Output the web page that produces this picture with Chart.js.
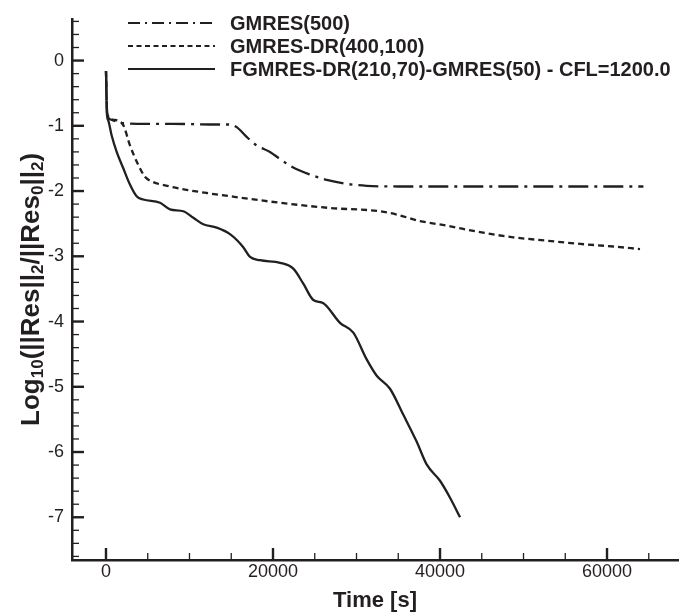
<!DOCTYPE html>
<html>
<head>
<meta charset="utf-8">
<script src="https://cdn.jsdelivr.net/npm/chart.js@4.4.1/dist/chart.umd.min.js"></script>
<style>
  html, body { margin: 0; padding: 0; background: #fff; }
  #wrap { width: 682px; height: 612px; }
</style>
</head>
<body>
<div id="wrap"><canvas id="convChart" width="682" height="612"></canvas></div>
<script>
const seriesNames = ['GMRES(500)', 'GMRES-DR(400,100)', 'FGMRES-DR(210,70)-GMRES(50) - CFL=1200.0'];

// GMRES(500)
const gmresTime = [0, 150, 480, 2070, 5000, 8000, 12450, 14850, 15650, 16840, 18040, 19640, 20840, 22430, 24500, 26430, 28820, 31220, 35000, 45000, 55000, 64360];
const gmresRes = [-0.16, -0.82, -0.90, -0.96, -0.97, -0.97, -0.98, -0.98, -1.02, -1.17, -1.30, -1.40, -1.51, -1.64, -1.75, -1.83, -1.89, -1.92, -1.93, -1.93, -1.93, -1.93];

// GMRES-DR(400,100)
const drTime = [0, 150, 1000, 2070, 2870, 3870, 4670, 5270, 7660, 10060, 12060, 16050, 20840, 26830, 32810, 34810, 37600, 40800, 44790, 48780, 52780, 56770, 60760, 63950];
const drRes = [-0.16, -0.82, -0.91, -0.99, -1.30, -1.60, -1.78, -1.84, -1.93, -1.99, -2.03, -2.10, -2.18, -2.26, -2.31, -2.36, -2.46, -2.53, -2.63, -2.71, -2.76, -2.81, -2.85, -2.89];

// FGMRES-DR(210,70)-GMRES(50)
const fgTime = [0, 100, 280, 680, 1280, 2070, 2870, 3670, 4470, 6470, 7660, 9260, 10460, 11650, 13250, 14850, 16440, 17250, 18440, 20840, 22430, 23630, 24830, 26030, 28020, 29620, 31220, 32420, 34010, 35610, 37200, 38400, 40000, 41200, 42400];
const fgRes = [-0.16, -0.80, -0.92, -1.15, -1.40, -1.65, -1.90, -2.08, -2.13, -2.18, -2.28, -2.31, -2.41, -2.51, -2.56, -2.66, -2.86, -3.01, -3.06, -3.10, -3.19, -3.42, -3.67, -3.72, -4.02, -4.17, -4.58, -4.83, -5.03, -5.43, -5.84, -6.19, -6.44, -6.70, -7.00];

const xTicks = [0, 20000, 40000, 60000];
const yTicks = [0, -1, -2, -3, -4, -5, -6, -7];

const ink = '#231f20';
const fontName = "'Liberation Sans', Arial, Helvetica, sans-serif";

function pts(xs, ys) {
    return xs.map((v, i) => ({ x: v, y: ys[i] }));
}

// legend, inward ticks and the y title (with subscripts)
const tecplotFrame = {
    id: 'tecplotFrame',
    afterDraw(chart) {
        const { ctx, chartArea, scales: { x, y } } = chart;
        ctx.save();
        ctx.strokeStyle = ink;
        ctx.lineCap = 'butt';

        // y ticks, every 0.2, major at integers
        for (let k = Math.ceil(y.min * 5); k <= Math.floor(y.max * 5); k++) {
            const py = y.getPixelForValue(k / 5);
            const major = k % 5 === 0;
            ctx.lineWidth = major ? 2.4 : 1.3;
            ctx.beginPath();
            ctx.moveTo(x.left, py);
            ctx.lineTo(x.left + (major ? 12 : 7), py);
            ctx.stroke();
        }
        // x ticks, every 5000, major every 20000
        for (let k = Math.ceil(x.min / 5000); k <= Math.floor(x.max / 5000); k++) {
            const px = x.getPixelForValue(k * 5000);
            const major = k % 4 === 0;
            ctx.lineWidth = major ? 2.4 : 1.3;
            ctx.beginPath();
            ctx.moveTo(px, y.bottom);
            ctx.lineTo(px, y.bottom - (major ? 12 : 7));
            ctx.stroke();
        }

        // legend
        const legendDash = [[12, 5, 2, 5], [5, 3.5], []];
        const rowY = [23, 46, 69];
        ctx.font = 'bold 20px ' + fontName;
        ctx.fillStyle = ink;
        ctx.textBaseline = 'middle';
        ctx.textAlign = 'left';
        chart.data.datasets.forEach((ds, i) => {
            ctx.lineWidth = 2.2;
            ctx.setLineDash(legendDash[i]);
            ctx.beginPath();
            ctx.moveTo(128, rowY[i]);
            ctx.lineTo(215, rowY[i]);
            ctx.stroke();
            ctx.fillText(ds.label, 230, rowY[i] + 1);
        });
        ctx.setLineDash([]);

        // y title: Log10(||Res||2/||Res0||2), centred on the axis
        const parts = [['Log', 0], ['10', 1], ['(||Res||', 0], ['2', 1], ['/||Res', 0], ['0', 1], ['||', 0], ['2', 1], [')', 0]];
        const big = 'bold 26px ' + fontName;
        const small = 'bold 17px ' + fontName;
        let total = 0;
        parts.forEach(p => { ctx.font = p[1] ? small : big; total += ctx.measureText(p[0]).width; });
        ctx.translate(30, (chartArea.top + chartArea.bottom) / 2);
        ctx.rotate(-Math.PI / 2);
        ctx.textBaseline = 'alphabetic';
        let cx = -total / 2;
        parts.forEach(p => {
            ctx.font = p[1] ? small : big;
            ctx.fillText(p[0], cx, p[1] ? 13 : 9);
            cx += ctx.measureText(p[0]).width;
        });
        ctx.restore();
    }
};

const ctx = document.getElementById('convChart');

new Chart(ctx, {
    type: 'line',
    plugins: [tecplotFrame],
    data: {
        datasets: [
            {
                label: seriesNames[0],
                data: pts(gmresTime, gmresRes),
                borderDash: [20, 6, 3, 6],
            },
            {
                label: seriesNames[1],
                data: pts(drTime, drRes),
                borderDash: [6, 4],
            },
            {
                label: seriesNames[2],
                data: pts(fgTime, fgRes),
                borderDash: [],
            },
        ]
    },
    options: {
        responsive: false,
        animation: false,
        devicePixelRatio: 1,
        layout: {
            padding: { top: 12, right: 4, bottom: 0, left: 0 }
        },
        elements: {
            line: {
                borderColor: ink,
                borderWidth: 2.3,
                cubicInterpolationMode: 'monotone',
                fill: false,
            },
            point: { radius: 0, hoverRadius: 0 }
        },
        plugins: {
            legend: { display: false },
            tooltip: { enabled: false }
        },
        scales: {
            x: {
                type: 'linear',
                min: -4070,
                max: 68500,
                afterFit: (scale) => { scale.height = 52; },
                afterBuildTicks: (scale) => { scale.ticks = xTicks.map(v => ({ value: v })); },
                grid: { display: true, drawOnChartArea: false, drawTicks: false },
                border: { display: true, color: ink, width: 2.5 },
                ticks: {
                    padding: 1,
                    color: ink,
                    font: { family: fontName, size: 18 },
                    callback: (v) => String(v)
                },
                title: {
                    display: true,
                    text: 'Time [s]',
                    color: ink,
                    padding: { top: 0, bottom: 0 },
                    font: { family: fontName, size: 22, weight: 'bold', lineHeight: 1 }
                }
            },
            y: {
                type: 'linear',
                min: -7.655,
                max: 0.64,
                afterFit: (scale) => { scale.width = 72; },
                afterBuildTicks: (scale) => { scale.ticks = yTicks.map(v => ({ value: v })); },
                grid: { display: true, drawOnChartArea: false, drawTicks: false },
                border: { display: true, color: ink, width: 2.5 },
                ticks: {
                    padding: 8,
                    color: ink,
                    font: { family: fontName, size: 18 },
                    callback: (v) => String(v)
                }
            }
        }
    }
});
</script>
</body>
</html>
